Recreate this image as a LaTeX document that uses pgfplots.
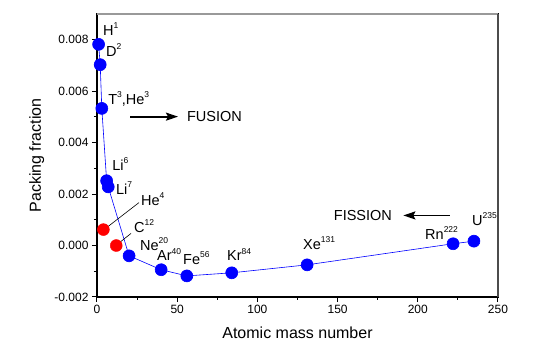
\documentclass[border=0pt]{standalone}
\usepackage{pgfplots}
\pgfplotsset{compat=1.18}
\usetikzlibrary{arrows.meta}
\usepackage{fontspec}
\setmainfont{Liberation Sans}
\newcommand\isup[1]{\raisebox{0.48em}{\fontsize{8.5}{9}\selectfont #1}}
\begin{document}
\begin{tikzpicture}[x=1pt,y=1pt]
\begin{axis}[
  scale only axis, width=401pt, height=283pt,
  xmin=0, xmax=250, ymin=-0.002, ymax=0.009,
  axis lines=box, axis line style={line width=1.2pt, black},
  xtick={0,50,100,150,200,250},
  xticklabels={0,50,100,150,200,250},
  ytick={-0.002,0,0.002,0.004,0.006,0.008},
  yticklabels={-0.002,0.000,0.002,0.004,0.006,0.008},
  minor x tick num=1, minor y tick num=1,
  xtick pos=bottom, ytick pos=left,
  tick align=outside,
  major tick length=5pt, minor tick length=3pt,
  every tick/.style={black, line width=1pt},
  scaled y ticks=false,
  tick label style={font=\fontsize{12}{14}\selectfont},
  label style={font=\fontsize{16}{18}\selectfont},
  xlabel={Atomic mass number},
  ylabel={Packing fraction},
  xlabel style={at={(axis description cs:0.5,-0.125)}, anchor=center},
  ylabel style={at={(axis description cs:-0.15,0.5)}, anchor=center},
  clip=false,
]
\addplot[blue, line width=0.6pt, mark=*, mark size=6pt, mark options={blue, fill=blue}] coordinates {
 (1,0.00782) (2,0.00703) (3,0.00533) (6,0.00252) (7,0.00228)
 (20,-0.00040) (40,-0.00094) (56,-0.00118) (84,-0.00106)
 (131,-0.00075) (222,0.00007) (235,0.00017)
};
\addplot[only marks, mark=*, mark size=6pt, mark options={red, fill=red}] coordinates {
 (4,0.00062) (12,0.0)
};
\draw[gray!80, line width=1.2pt] (rel axis cs:0,1) -- (rel axis cs:1,1);
\draw[black!70, line width=1.2pt] (rel axis cs:1,0) -- (rel axis cs:1,1);
\draw[black, line width=0.6pt] (axis cs:4.4,0.00062) -- (axis cs:26.2,0.00167);
\draw[black, line width=0.6pt] (axis cs:12.5,0.00004) -- (axis cs:21.2,0.00047);
\draw[-{Stealth[length=12pt,width=8pt,inset=2pt]}, line width=1.8pt] (axis cs:20.6,0.00501) -- (axis cs:50.5,0.00501);
\draw[-{Stealth[length=12pt,width=8pt,inset=2pt]}, line width=1.8pt] (axis cs:220,0.00117) -- (axis cs:191,0.00117);
\begin{scope}[every node/.style={font=\fontsize{14.5}{16}\selectfont, inner sep=0pt, anchor=west}]
\node at (axis cs:56,0.00501) {FUSION};
\node[anchor=east] at (axis cs:184,0.00117) {FISSION};
\node at (axis cs:3.7,0.00843) {H\isup{1}};
\node at (axis cs:5.6,0.00761) {D\isup{2}};
\node at (axis cs:6.9,0.00571) {T\isup{3},He\isup{3}};
\node at (axis cs:9.4,0.00318) {Li\isup{6}};
\node at (axis cs:11.8,0.00225) {Li\isup{7}};
\node at (axis cs:27.4,0.00179) {He\isup{4}};
\node at (axis cs:23,0.00074) {C\isup{12}};
\node at (axis cs:26.8,0.00004) {Ne\isup{20}};
\node at (axis cs:37.4,-0.00035) {Ar\isup{40}};
\node at (axis cs:53.6,-0.0005) {Fe\isup{56}};
\node at (axis cs:81,-0.00035) {Kr\isup{84}};
\node at (axis cs:128.4,0.00008) {Xe\isup{131}};
\node at (axis cs:204.5,0.0005) {Rn\isup{222}};
\node at (axis cs:233.8,0.00101) {U\isup{235}};
\end{scope}
\path (rel axis cs:0,0) ++(-97pt,-58pt) rectangle ++(533pt,355pt);
\end{axis}
\end{tikzpicture}
\end{document}
